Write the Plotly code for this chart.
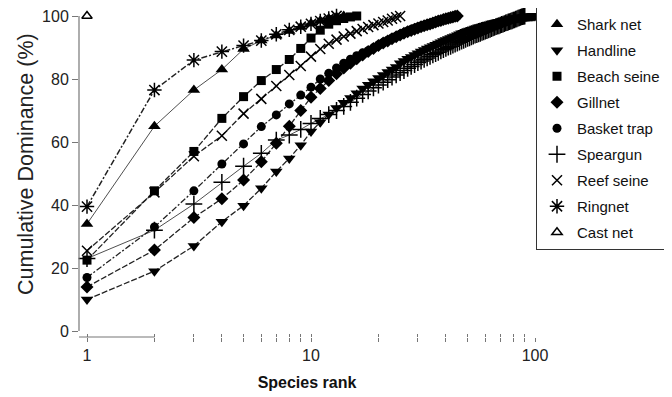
import plotly.graph_objects as go

# ---- data (cumulative dominance %, by species rank 1..N) ----
shark_net = [34, 65, 76.5, 83, 89.5, 92.2, 93.8, 95.2, 96.5, 97.6, 98.5, 99.2, 99.7, 100]
handline = [10, 19, 27, 34.7, 39.8, 45.3, 50.6, 54.8, 59, 63.3,
            66.3, 68.7, 70.8, 72.5, 74, 75.5, 77, 78.2, 79.3, 80.3,
            81.3, 82.2, 83, 83.8, 85, 85.7, 86.4, 87, 87.6, 88.2,
            88.7, 89.2, 89.7, 90.1, 90.5, 90.9, 91.3, 91.7, 92.1, 92.4,
            92.7, 93, 93.3, 93.6, 93.9, 94.2, 94.5, 94.7, 95, 95.2,
            95.4, 95.6, 95.8, 96, 96.2, 96.4, 96.5, 96.7, 96.9, 97,
            97.2, 97.3, 97.4, 97.6, 97.7, 97.8, 97.9, 98, 98.1, 98.2,
            98.3, 98.4, 98.5, 98.6, 98.7, 98.8, 98.9, 99, 99.1, 99.2,
            99.25, 99.3, 99.35, 99.4, 99.45, 99.5, 99.55, 99.6, 99.65, 99.7,
            99.74, 99.78, 99.82, 99.86, 99.89, 99.92, 99.95, 99.97, 99.99, 100]
beach_seine = [22.5, 44.5, 57, 67.5, 74.4, 79.5, 83, 86.2, 89.7, 93,
               95.5, 97.4, 98.5, 99.2, 99.7, 100]
gillnet = [14, 25.7, 36, 42, 47.9, 53.7, 59.6, 65, 70, 74.2,
           77, 79.5, 81.7, 83.5, 85, 86.4, 87.6, 88.7, 89.7, 90.6,
           91.4, 92.1, 92.8, 93.4, 94, 94.5, 95, 95.4, 95.8, 96.2,
           96.6, 96.9, 97.2, 97.5, 97.8, 98.1, 98.4, 98.6, 98.9, 99.1,
           99.3, 99.5, 99.7, 99.9, 100]
basket_trap = [17, 33, 44.5, 53, 59.4, 64.9, 68.6, 72.1, 74.9, 77.4,
               80, 81.8, 83.5, 85, 86.3, 87.4, 88.3, 89, 89.9, 90.8,
               91.6, 92.3, 93, 93.6, 94.2, 94.7, 95.2, 95.7, 96.1, 96.5,
               96.8, 97.1, 97.4, 97.7, 98, 98.3, 98.5, 98.7, 98.9, 99.1,
               99.3, 99.5, 99.7, 99.9, 100]
speargun = [23, 32, 40.3, 47.2, 52.3, 56.4, 60.6, 62.2, 64, 65.9,
            67.5, 68.7, 70, 71.3, 72.6, 73.9, 75.1, 76.2, 77.2, 78.1,
            79, 79.8, 80.6, 81.3, 82, 82.7, 83.4, 84, 84.6, 85.2,
            85.7, 86.2, 86.7, 87.2, 87.7, 88.1, 88.5, 88.9, 89.3, 89.7,
            90.1, 90.4, 90.8, 91.1, 91.4, 91.7, 92, 92.3, 92.6, 92.9,
            93.1, 93.4, 93.6, 93.9, 94.1, 94.3, 94.5, 94.8, 95, 95.2,
            95.4, 95.6, 95.8, 96, 96.2, 96.4, 96.6, 96.8, 96.9, 97.1,
            97.3, 97.4, 97.6, 97.8, 97.9, 98.1, 98.2, 98.4, 98.5, 98.7,
            98.8, 99, 99.1, 99.3, 99.4, 99.55, 99.7, 99.8, 99.9, 100]
reef_seine = [25.5, 44, 55.5, 62, 69, 73.7, 77.8, 81.3, 84.1, 87.1,
              89.5, 91.2, 92.5, 93.5, 94.4, 95.2, 95.9, 96.5, 97.1, 97.6,
              98.1, 98.6, 99.1, 99.6, 100]
ringnet = [39.5, 76.5, 86, 88.7, 90.6, 92.2, 94.2, 95.6, 96.6, 97.5, 98.4, 99.2, 100]
cast_net = [100]

series_names = ["Shark net", "Handline", "Beach seine", "Gillnet", "Basket trap",
                "Speargun", "Reef seine", "Ringnet", "Cast net"]
series_values = [shark_net, handline, beach_seine, gillnet, basket_trap,
                 speargun, reef_seine, ringnet, cast_net]

x_tick_vals = [1, 2, 3, 4, 5, 6, 7, 8, 9, 10, 20, 30, 40, 50, 60, 70, 80, 90, 100]
x_tick_text = ["1", "", "", "", "", "", "", "", "", "10",
               "", "", "", "", "", "", "", "", "100"]
y_tick_vals = [0, 20, 40, 60, 80, 100]

# ---- styles ----
symbols = ["triangle-up", "triangle-down", "square", "diamond", "circle",
           "cross-thin-open", "x-thin-open", "asterisk-open", "triangle-up-open"]
sizes = [11, 11, 9, 10, 9, 12, 10, 12, 9]
DASH = "6px,2px"
DASHDOT = "6px,2px,2px,2px"
dashes = ["solid", DASH, DASH, DASH, DASHDOT, "solid", DASH, DASHDOT, "solid"]
widths = [0.8, 1.3, 1.3, 1.3, 1.3, 0.8, 1.3, 1.5, 1]

FONT = "Arial, Liberation Sans, sans-serif"
fig = go.Figure()

for name, vals, dsh, w in zip(series_names, series_values, dashes, widths):
    ranks = list(range(1, len(vals) + 1))
    fig.add_trace(go.Scatter(x=ranks, y=vals, mode="lines", showlegend=False,
                             line=dict(color="#222", dash=dsh, width=w),
                             hoverinfo="skip", cliponaxis=False))

for i, (name, vals, sym, sz) in enumerate(zip(series_names, series_values, symbols, sizes)):
    ranks = list(range(1, len(vals) + 1))
    open_sym = sym.endswith("open")
    fig.add_trace(go.Scatter(
        x=ranks, y=vals, mode="markers", name=name, legendgroup=f"g{i}",
        marker=dict(symbol=sym, size=sz, color="#000",
                    line=dict(color="#000", width=1.5 if open_sym else 0)),
        cliponaxis=False))

# axis lines drawn detached, as in the reference
fig.add_shape(type="line", xref="paper", yref="y", x0=0, x1=0, y0=0, y1=100,
              line=dict(color="#777", width=1.2))
fig.add_shape(type="line", xref="x", yref="paper", x0=0, x1=2, y0=0, y1=0,
              line=dict(color="#777", width=1.2))

# page body has an 8px margin, so the figure is 8px smaller than the window
PW, PH = 456, 321
xr = [-8 / 224, 2]
fig.update_layout(
    width=664, height=389,
    margin=dict(l=71, r=137, t=8, b=60, autoexpand=False),
    paper_bgcolor="white", plot_bgcolor="white",
    font=dict(family=FONT, size=16, color="#222"),
    xaxis=dict(type="log", range=xr, tickmode="array", tickvals=x_tick_vals,
               ticktext=x_tick_text,
               showgrid=False, zeroline=False, showline=False, automargin=False,
               ticks="outside", ticklen=4, tickcolor="#777", tickwidth=1,
               tickfont=dict(size=16, color="#222"), ticklabeloverflow="allow",
               title=dict(text="<b>Species rank</b>", font=dict(size=16, color="#111"),
                          standoff=13)),
    xaxis2=dict(type="log", range=xr, overlaying="x", showgrid=False, zeroline=False,
                showline=False, showticklabels=False, tickmode="array",
                tickvals=x_tick_vals,
                ticks="inside", ticklen=3, tickcolor="#777", automargin=False),
    yaxis=dict(range=[-6 / 3.15, 100], tickvals=y_tick_vals, automargin=False,
               showgrid=False, zeroline=False, showline=False,
               ticks="outside", ticklen=6, tickcolor="#777", ticklabeloverflow="allow",
               tickfont=dict(size=16, color="#222")),
    legend=dict(x=(658 - 71) / PW, y=(329 + 1) / PH, xanchor="right", yanchor="top",
                bordercolor="#333", borderwidth=1, bgcolor="white",
                font=dict(size=15, color="#111"), tracegroupgap=3.5,
                itemsizing="trace", maxheight=330),
    annotations=[dict(text="Cumulative Dominance (%)", textangle=-90,
                      xref="paper", yref="paper", x=(26 - 79) / PW, y=(337 - 164) / PH,
                      xanchor="center", yanchor="middle",
                      showarrow=False, font=dict(size=21.5, color="#222"))],
)
# dummy trace to activate xaxis2
fig.add_trace(go.Scatter(x=[1], y=[None], xaxis="x2", showlegend=False, hoverinfo="skip"))

fig.write_html("out.html")
